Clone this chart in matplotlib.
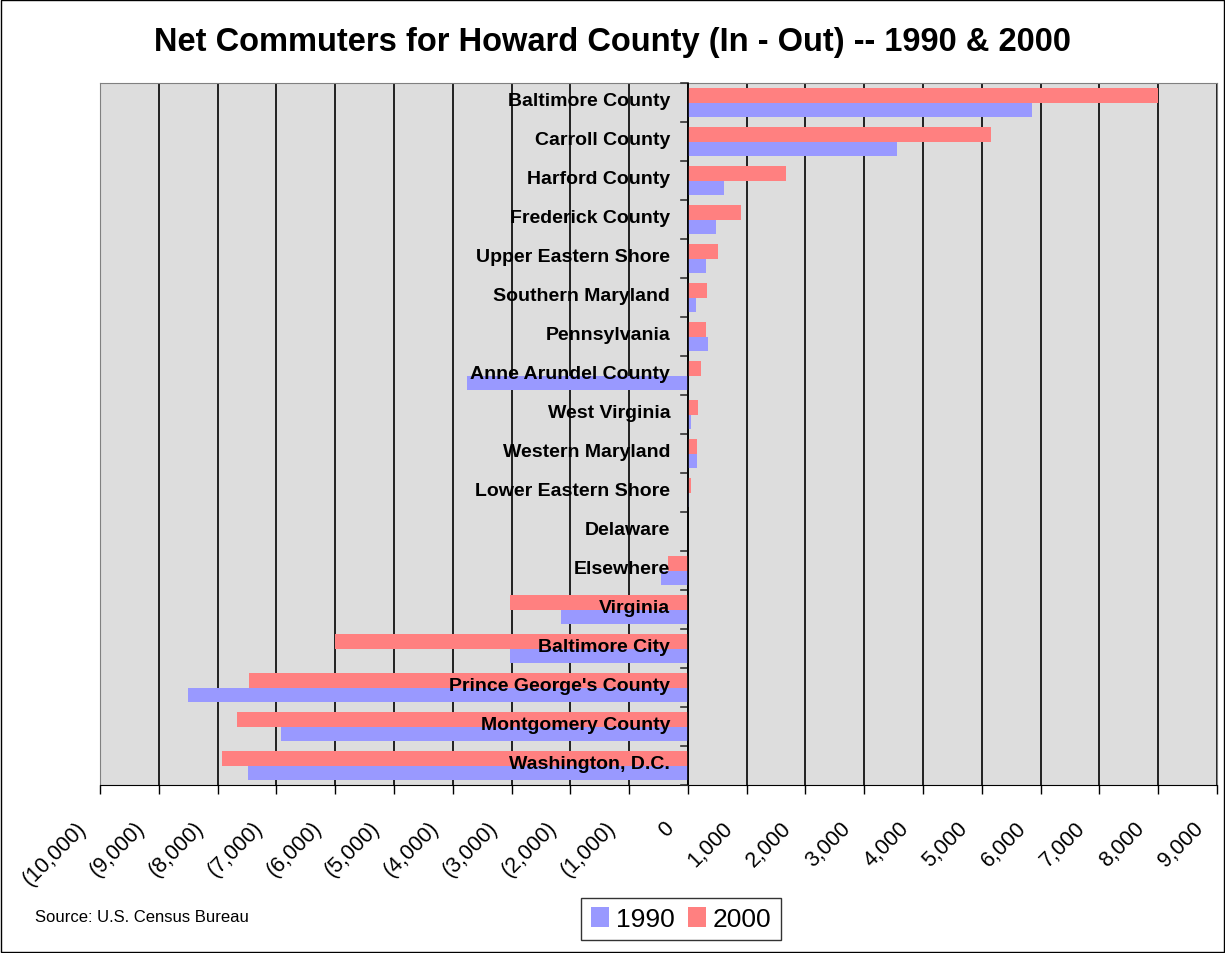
import numpy as np
import matplotlib
matplotlib.use("Agg")
import matplotlib.pyplot as plt
import matplotlib.transforms as mtransforms
from matplotlib.ticker import FuncFormatter, FixedLocator

plt.rcParams["font.family"] = ["Liberation Sans", "DejaVu Sans"]

regions = [
    "Baltimore County", "Carroll County", "Harford County", "Frederick County",
    "Upper Eastern Shore", "Southern Maryland", "Pennsylvania", "Anne Arundel County",
    "West Virginia", "Western Maryland", "Lower Eastern Shore", "Delaware",
    "Elsewhere", "Virginia", "Baltimore City", "Prince George's County",
    "Montgomery County", "Washington, D.C.",
]
net_1990 = [5850, 3560, 610, 470, 300, 130, 350, -3760, 60, 150, 25, 0,
            -460, -2160, -3020, -8500, -6920, -7480]
net_2000 = [8000, 5150, 1670, 910, 520, 320, 300, 220, 180, 150, 60, 0,
            -340, -3020, -6010, -7460, -7670, -7930]
x_ticks = list(range(-10000, 10000, 1000))

W, H = 1225, 954
fig = plt.figure(figsize=(W / 100, H / 100), dpi=100)
ax = fig.add_axes([100 / W, 1 - 786 / H, 1117 / W, 702 / H])
ax.set_facecolor("#dddddd")

y = np.arange(len(regions))
h = 0.36
ax.barh(y - h / 2, net_2000, height=h, color="#ff8080", label="2000", zorder=3)
ax.barh(y + h / 2, net_1990, height=h, color="#9999ff", label="1990", zorder=3)

ax.set_xlim(-10000, 9000)
ax.set_ylim(len(regions) - 0.5, -0.5)
ax.xaxis.set_major_locator(FixedLocator(x_ticks))
ax.grid(axis="x", color="black", linewidth=1.2, zorder=1)


def fmt(v, pos):
    v = int(round(v))
    if v < 0:
        return "({:,})".format(-v)
    return "{:,}".format(v)


ax.xaxis.set_major_formatter(FuncFormatter(fmt))
ax.tick_params(axis="x", length=6.5, width=1, color="black", labelsize=15.5,
               pad=22, labelrotation=45)
shift = mtransforms.ScaledTranslation(-0.17, 0, fig.dpi_scale_trans)
for tick in ax.xaxis.get_major_ticks():
    lab = tick.label1
    lab.set_ha("right")
    lab.set_va("center")
    lab.set_rotation_mode("anchor")
    lab.set_transform(lab.get_transform() + shift)

ax.set_yticks([])
for s in ax.spines.values():
    s.set_color("#808080")
ax.spines["bottom"].set_color("black")

# category ticks on the zero line
for b in np.arange(-0.5, len(regions), 1.0):
    ax.plot([-110, 0], [b, b], color="#333333", lw=1.2, zorder=4, clip_on=False)
ax.axvline(0, color="black", lw=1.2, zorder=4)

for i, name in enumerate(regions):
    ax.text(-300, i - 0.05, name, ha="right", va="center", fontsize=14,
            fontweight="bold", zorder=5)

fig.text(0.5, 1 - 42 / H, "Net Commuters for Howard County (In - Out) -- 1990 & 2000",
         ha="center", va="center", fontsize=23.5, fontweight="bold")
fig.text(35 / W, 1 - 918 / H, "Source: U.S. Census Bureau", ha="left", va="center",
         fontsize=12)

handles, labels = ax.get_legend_handles_labels()
leg = fig.legend(handles[::-1], labels[::-1], loc="center", ncol=2,
                 bbox_to_anchor=(681 / W, 1 - 920 / H), fontsize=19,
                 frameon=True, fancybox=False, edgecolor="black",
                 handlelength=0.7, handleheight=0.8, handletextpad=0.25,
                 columnspacing=0.5, borderpad=0.35)
leg.get_frame().set_linewidth(1)

fig.patches.append(plt.Rectangle((0.001, 0.001), 0.998, 0.998, transform=fig.transFigure,
                                 fill=False, edgecolor="black", lw=1))

fig.savefig("out.png", dpi=100)
